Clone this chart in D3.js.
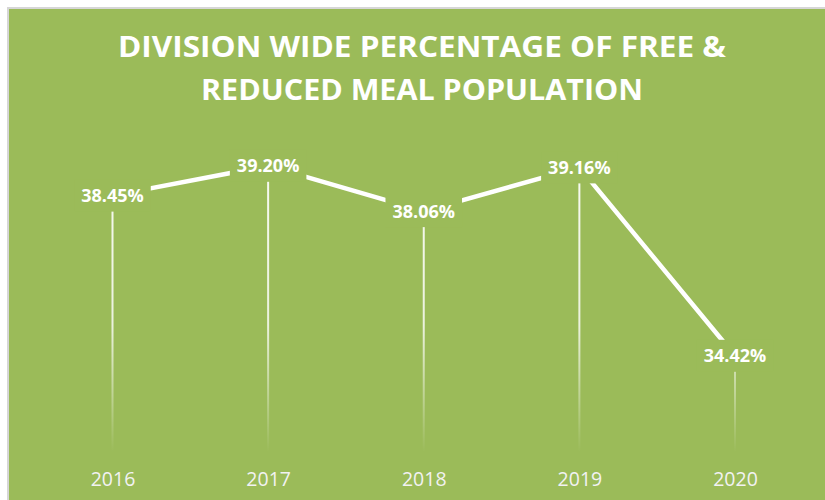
<!DOCTYPE html>
<html>
<head>
<meta charset="utf-8">
<script src="https://cdn.jsdelivr.net/npm/d3@7/dist/d3.min.js"></script>
<style>
  html, body { margin: 0; padding: 0; background: #ffffff; }
  svg { display: block; }
</style>
</head>
<body>
<div id="chart"></div>
<script>
// Free & reduced meal population, division wide, by school year
const years = ["2016", "2017", "2018", "2019", "2020"];
const percents = [38.45, 39.20, 38.06, 39.16, 34.42];
const titleLines = ["DIVISION WIDE PERCENTAGE OF FREE &", "REDUCED MEAL POPULATION"];
const yDomain = [32, 40];

const W = 825, H = 500;
const bg = "#9BBB59";

const svg = d3.select("#chart").append("svg")
  .attr("width", W).attr("height", H);

// frame: thin grey edge then the green panel
svg.append("rect").attr("x", 7).attr("y", 7).attr("width", W).attr("height", H).attr("fill", "#d6d6d6");
svg.append("rect").attr("x", 9).attr("y", 9).attr("width", W).attr("height", H).attr("fill", bg);

// title
const titleWidths = [608, 442];
svg.append("g").selectAll("text").data(titleLines).join("text")
  .attr("x", 422)
  .attr("y", (d, i) => 57 + i * 43)
  .attr("text-anchor", "middle")
  .attr("fill", "#ffffff")
  .attr("font-family", "'Open Sans', sans-serif")
  .attr("font-weight", 700)
  .attr("font-size", 28)
  .attr("textLength", (d, i) => titleWidths[i])
  .attr("lengthAdjust", "spacingAndGlyphs")
  .text(d => d);

const x = d3.scalePoint().domain(years).range([112.5, 735]);
const y = d3.scaleLinear().domain(yDomain).range([452, 134]);

// fading drop lines
const defs = svg.append("defs");
const grad = defs.append("linearGradient")
  .attr("id", "dropFade")
  .attr("gradientUnits", "userSpaceOnUse")
  .attr("x1", 0).attr("x2", 0)
  .attr("y1", y(yDomain[1])).attr("y2", y(yDomain[0]));
grad.append("stop").attr("offset", "0%").attr("stop-color", "#ffffff").attr("stop-opacity", 0.95);
grad.append("stop").attr("offset", "60%").attr("stop-color", "#ffffff").attr("stop-opacity", 0.8);
grad.append("stop").attr("offset", "100%").attr("stop-color", "#ffffff").attr("stop-opacity", 0);

const data = years.map((yr, i) => ({ year: yr, value: percents[i] }));

svg.append("g").selectAll("rect.drop").data(data).join("rect")
  .attr("class", "drop")
  .attr("x", d => x(d.year) - 1)
  .attr("y", d => y(d.value))
  .attr("width", 2)
  .attr("height", d => y(yDomain[0]) - y(d.value))
  .attr("fill", "url(#dropFade)");

// series line
const line = d3.line().x(d => x(d.year)).y(d => y(d.value));
svg.append("path").datum(data)
  .attr("d", line)
  .attr("fill", "none")
  .attr("stroke", "#ffffff")
  .attr("stroke-width", 4.5)
  .attr("stroke-linejoin", "round");

// value labels on a panel-coloured box
const labels = svg.append("g").selectAll("g").data(data).join("g")
  .attr("transform", d => `translate(${x(d.year)},${y(d.value)})`);
labels.append("text")
  .attr("text-anchor", "middle")
  .attr("dy", "0.36em")
  .attr("fill", "#ffffff")
  .attr("font-family", "'Open Sans', sans-serif")
  .attr("font-weight", 700)
  .attr("font-size", 18)
  .text(d => d.value.toFixed(2) + "%");
labels.each(function() {
  const g = d3.select(this);
  const bb = g.select("text").node().getBBox();
  g.insert("rect", "text")
    .attr("x", bb.x - 7).attr("y", -16)
    .attr("width", bb.width + 14).attr("height", 32)
    .attr("fill", bg);
});

// category axis labels
const xAxis = d3.axisBottom(x).tickSize(0).tickPadding(0);
const ax = svg.append("g").attr("transform", "translate(0,472)").call(xAxis);
ax.select(".domain").remove();
ax.selectAll("text")
  .attr("fill", "#f2f2f2")
  .attr("font-family", "'Open Sans', sans-serif")
  .attr("font-size", 19.5)
  .attr("dy", "0.71em");
</script>
</body>
</html>
